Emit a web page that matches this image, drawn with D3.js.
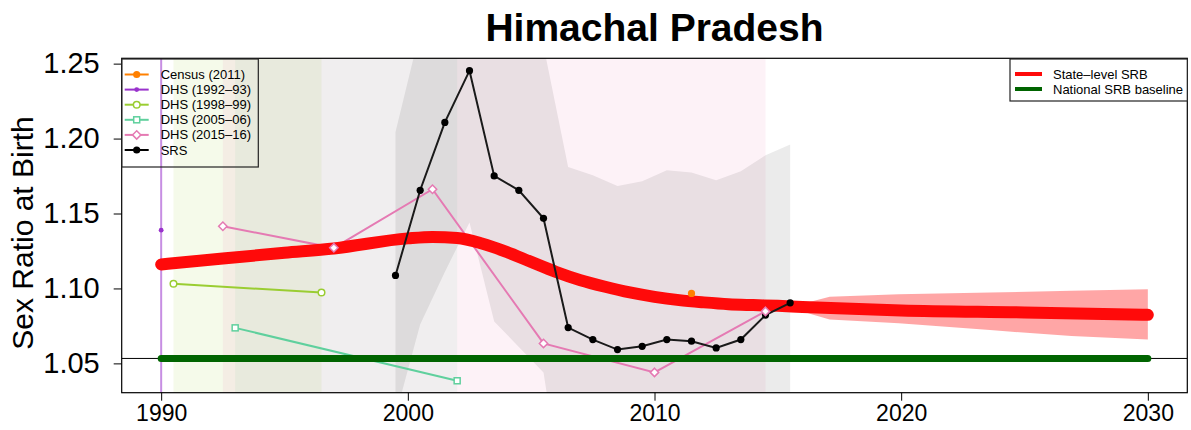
<!DOCTYPE html>
<html>
<head>
<meta charset="UTF-8">
<title>Himachal Pradesh</title>
<script src="https://cdn.jsdelivr.net/npm/d3@7"></script>
<style>
  body { margin: 0; background: #fff; }
  text { font-family: "Liberation Sans", Arial, sans-serif; }
</style>
</head>
<body>
<div id="graphe"></div>
<script>
// --- data ---
var srsYears = [1999.5, 2000.5, 2001.5, 2002.5, 2003.5, 2004.5, 2005.5, 2006.5, 2007.5,
  2008.5, 2009.5, 2010.5, 2011.5, 2012.5, 2013.5, 2014.5, 2015.5];
var srsValues = [1.1087, 1.1655, 1.2108, 1.2453, 1.1751, 1.1655, 1.1468, 1.0739, 1.0659,
  1.0592, 1.0614, 1.0659, 1.0648, 1.0603, 1.0659, 1.0822, 1.0904];
var srsUpper = [1.2044, 1.272, 1.32, 1.36, 1.30, 1.29, 1.262, 1.1811, 1.1755,
  1.1684, 1.1715, 1.1789, 1.1773, 1.1722, 1.1782, 1.1889, 1.196];
var srsLower = [1.015, 1.076, 1.111, 1.144, 1.078, 1.061, 1.044, 0.938, 0.945,
  0.95, 0.948, 0.952, 0.95, 0.947, 0.955, 0.96, 0.975];

var dhs9293Years = [1990.0], dhs9293Values = [1.1389];
var dhs9899Years = [1990.5, 1996.5], dhs9899Values = [1.1031, 1.0973];
var dhs0506Years = [1993.0, 2002.0], dhs0506Values = [1.0737, 1.0384];
var dhs1516Years = [1992.5, 1997.0, 2001.0, 2005.5, 2010.0, 2014.5];
var dhs1516Values = [1.1415, 1.1271, 1.1662, 1.0633, 1.0440, 1.0847];
var censusYears = [2011.5], censusValues = [1.0967];

var stateYears = [1990, 1992.5, 1995, 1997, 2000, 2001, 2002, 2003, 2004, 2005, 2006, 2007,
  2008, 2009, 2010, 2011, 2012, 2013, 2014, 2015, 2016, 2020, 2025, 2030];
var stateValues = [1.1160, 1.1200, 1.1238, 1.1267, 1.1334, 1.1344, 1.1337, 1.1300, 1.1244,
  1.1177, 1.1111, 1.1055, 1.1011, 1.0973, 1.0944, 1.0922, 1.0907, 1.0895, 1.0889, 1.0884,
  1.0877, 1.0853, 1.0840, 1.0824];
var projYears = [2015.5, 2016.4, 2017.1, 2019.9, 2023.6, 2026.9, 2030];
var projUpper = [1.0876, 1.0915, 1.0944, 1.0962, 1.0973, 1.0984, 1.0995];
var projLower = [1.0874, 1.0827, 1.0793, 1.0767, 1.0722, 1.0682, 1.0660];

var nationalYears = [1990, 2030], nationalValue = 1.0533;

var xTicks = [1990, 2000, 2010, 2020, 2030];
var yTicks = [1.05, 1.10, 1.15, 1.20, 1.25];

// --- layout ---
var W = 1191, H = 430;
var margin = {top: 58.3, right: 3.7, bottom: 37.3, left: 121.7};

var svg = d3.select("#graphe").append("svg")
  .attr("width", W).attr("height", H);

var x = d3.scaleLinear().domain([1988.4, 2031.6]).range([margin.left, W - margin.right]);
var y = d3.scaleLinear().domain([1.03044, 1.25356]).range([H - margin.bottom, margin.top]);

svg.append("clipPath").attr("id", "plotclip").append("rect")
  .attr("x", margin.left).attr("y", margin.top)
  .attr("width", W - margin.left - margin.right)
  .attr("height", H - margin.top - margin.bottom);

var plot = svg.append("g").attr("clip-path", "url(#plotclip)");

// survey uncertainty bands (extend past the plot, so full height)
var bands = [
  {start: dhs9899Years[0], end: dhs9899Years[1], color: "#9acd32", op: 0.1},
  {start: dhs0506Years[0], end: dhs0506Years[1], color: "#71d4a7", op: 0.1},
  {start: dhs1516Years[0], end: dhs1516Years[5], color: "#e87bb2", op: 0.1}
];
plot.selectAll(".band").data(bands).enter().append("rect")
  .attr("x", function(d) { return x(d.start); })
  .attr("width", function(d) { return x(d.end) - x(d.start); })
  .attr("y", margin.top).attr("height", H - margin.top - margin.bottom)
  .style("fill", function(d) { return d.color; })
  .style("fill-opacity", function(d) { return d.op; });

var srsBand = srsYears.map(function(yr, i) { return {year: yr, lo: srsLower[i], hi: srsUpper[i]}; });
plot.append("path").datum(srsBand)
  .attr("d", d3.area().x(function(d) { return x(d.year); })
    .y0(function(d) { return y(d.lo); }).y1(function(d) { return y(d.hi); }))
  .style("fill", "#000").style("fill-opacity", 0.08);

// DHS 1992-93 band: a single year, so only a line
plot.append("line")
  .attr("x1", x(dhs9293Years[0])).attr("x2", x(dhs9293Years[0]))
  .attr("y1", margin.top).attr("y2", H - margin.bottom)
  .style("stroke", "#9932cc").style("stroke-opacity", 0.55).style("stroke-width", 2);

function series(years, values) {
  return years.map(function(yr, i) { return {year: yr, v: values[i]}; });
}
var line = d3.line().x(function(d) { return x(d.year); }).y(function(d) { return y(d.v); });

var dhsSeries = [
  {data: series(dhs9899Years, dhs9899Values), color: "#9acd32", sym: "circle"},
  {data: series(dhs0506Years, dhs0506Values), color: "#5fd09d", sym: "square"},
  {data: series(dhs1516Years, dhs1516Values), color: "#e57ab3", sym: "diamond"}
];
dhsSeries.forEach(function(s) {
  plot.append("path").datum(s.data).attr("d", line)
    .style("fill", "none").style("stroke", s.color).style("stroke-width", 2);
});

// projection band + state-level SRB
var proj = projYears.map(function(yr, i) { return {year: yr, lo: projLower[i], hi: projUpper[i]}; });
plot.append("path").datum(proj)
  .attr("d", d3.area().x(function(d) { return x(d.year); })
    .y0(function(d) { return y(d.lo); }).y1(function(d) { return y(d.hi); }))
  .style("fill", "#ff0000").style("fill-opacity", 0.35);

plot.append("path").datum(series(stateYears, stateValues))
  .attr("d", line.curve(d3.curveMonotoneX))
  .style("fill", "none").style("stroke", "#ff0a0a").style("stroke-width", 12)
  .style("stroke-linecap", "round").style("stroke-linejoin", "round");
line.curve(d3.curveLinear);

// national baseline
plot.append("line")
  .attr("x1", margin.left).attr("x2", W - margin.right)
  .attr("y1", y(nationalValue)).attr("y2", y(nationalValue))
  .style("stroke", "#000").style("stroke-width", 1);
plot.append("line")
  .attr("x1", x(nationalYears[0])).attr("x2", x(nationalYears[1]))
  .attr("y1", y(nationalValue)).attr("y2", y(nationalValue))
  .style("stroke", "#006400").style("stroke-width", 7).style("stroke-linecap", "round");

// SRS
plot.append("path").datum(series(srsYears, srsValues)).attr("d", line)
  .style("fill", "none").style("stroke", "#1a1a1a").style("stroke-width", 2);
plot.selectAll(".srs").data(series(srsYears, srsValues)).enter().append("circle")
  .attr("cx", function(d) { return x(d.year); }).attr("cy", function(d) { return y(d.v); })
  .attr("r", 3.6).style("fill", "#000");

// marker shapes
function marker(sel, sym, color, filled) {
  if (sym === "circle") {
    sel.append("circle").attr("r", 3.3);
  } else if (sym === "square") {
    sel.append("rect").attr("x", -3).attr("y", -3).attr("width", 6).attr("height", 6);
  } else if (sym === "diamond") {
    sel.append("path").attr("d", "M0,-4.2L4.2,0L0,4.2L-4.2,0Z");
  } else if (sym === "dot") {
    sel.append("circle").attr("r", 2.4);
  } else if (sym === "bigdot") {
    sel.append("circle").attr("r", 3.6);
  }
  sel.selectAll("*").style("fill", filled ? color : "#fff")
    .style("stroke", filled ? "none" : color).style("stroke-width", 1.5);
}

dhsSeries.forEach(function(s) {
  plot.selectAll(null).data(s.data).enter().append("g")
    .attr("transform", function(d) { return "translate(" + x(d.year) + "," + y(d.v) + ")"; })
    .call(marker, s.sym, s.color, false);
});
plot.selectAll(null).data(series(dhs9293Years, dhs9293Values)).enter().append("g")
  .attr("transform", function(d) { return "translate(" + x(d.year) + "," + y(d.v) + ")"; })
  .call(marker, "dot", "#9932cc", true);
plot.selectAll(null).data(series(censusYears, censusValues)).enter().append("g")
  .attr("transform", function(d) { return "translate(" + x(d.year) + "," + y(d.v) + ")"; })
  .call(marker, "bigdot", "#ff8000", true);

// box + axes
svg.append("rect")
  .attr("x", margin.left).attr("y", margin.top)
  .attr("width", W - margin.left - margin.right)
  .attr("height", H - margin.top - margin.bottom)
  .style("fill", "none").style("stroke", "#000").style("stroke-width", 1.2);

var xAxis = svg.append("g").attr("transform", "translate(0," + (H - margin.bottom) + ")")
  .call(d3.axisBottom(x).tickValues(xTicks).tickFormat(d3.format("d")).tickSize(8).tickPadding(4));
xAxis.select(".domain").remove();
xAxis.selectAll("text").style("font-size", "23px").style("fill", "#000")
  .style("font-family", "'Liberation Sans', Arial, sans-serif");

var yAxis = svg.append("g").attr("transform", "translate(" + margin.left + ",0)")
  .call(d3.axisLeft(y).tickValues(yTicks).tickFormat(d3.format(".2f")).tickSize(8).tickPadding(14));
yAxis.select(".domain").remove();
yAxis.selectAll("text").style("font-size", "29px").style("fill", "#000")
  .style("font-family", "'Liberation Sans', Arial, sans-serif");

svg.append("text")
  .attr("transform", "translate(33,233) rotate(-90)")
  .attr("text-anchor", "middle").style("font-size", "30px").text("Sex Ratio at Birth");

svg.append("text")
  .attr("x", (margin.left + W - margin.right) / 2).attr("y", 41)
  .attr("text-anchor", "middle").style("font-size", "39px").style("font-weight", "bold")
  .text("Himachal Pradesh");

// legend: data sources
var srcNames = ["Census (2011)", "DHS (1992\u201393)", "DHS (1998\u201399)", "DHS (2005\u201306)", "DHS (2015\u201316)", "SRS"];
var srcColors = ["#ff8000", "#9932cc", "#9acd32", "#5fd09d", "#e57ab3", "#000"];
var srcSyms = ["bigdot", "dot", "circle", "square", "diamond", "bigdot"];
var srcFilled = [true, true, false, false, false, true];

var leg1 = svg.append("g").attr("transform", "translate(" + margin.left + "," + (margin.top + 0.7) + ")");
leg1.append("rect").attr("width", 136.6).attr("height", 108)
  .style("fill", "none").style("stroke", "#222").style("stroke-width", 1.2);
var row = leg1.selectAll(".row").data(srcNames).enter().append("g")
  .attr("transform", function(d, i) { return "translate(0," + (15.5 + i * 15.1) + ")"; });
row.append("line").attr("x1", 3).attr("x2", 27)
  .style("stroke", function(d, i) { return srcColors[i]; }).style("stroke-width", 2);
row.each(function(d, i) {
  d3.select(this).append("g").attr("transform", "translate(15,0)")
    .call(marker, srcSyms[i], srcColors[i], srcFilled[i]);
});
row.append("text").attr("x", 39).attr("dy", "0.35em").style("font-size", "13px")
  .text(function(d) { return d; });

// legend: estimates
var estNames = ["State\u2013level SRB", "National SRB baseline"];
var estColors = ["#ff0a0a", "#006400"];
var leg2 = svg.append("g").attr("transform", "translate(1010," + (margin.top + 0.7) + ")");
leg2.append("rect").attr("width", W - margin.right - 1010).attr("height", 42)
  .style("fill", "#fff").style("stroke", "#222").style("stroke-width", 1.2);
var row2 = leg2.selectAll(".row").data(estNames).enter().append("g")
  .attr("transform", function(d, i) { return "translate(0," + (15 + i * 15) + ")"; });
row2.append("line").attr("x1", 5).attr("x2", 32)
  .style("stroke", function(d, i) { return estColors[i]; }).style("stroke-width", 4);
row2.append("text").attr("x", 43).attr("dy", "0.35em").style("font-size", "13px")
  .text(function(d) { return d; });
</script>
</body>
</html>
